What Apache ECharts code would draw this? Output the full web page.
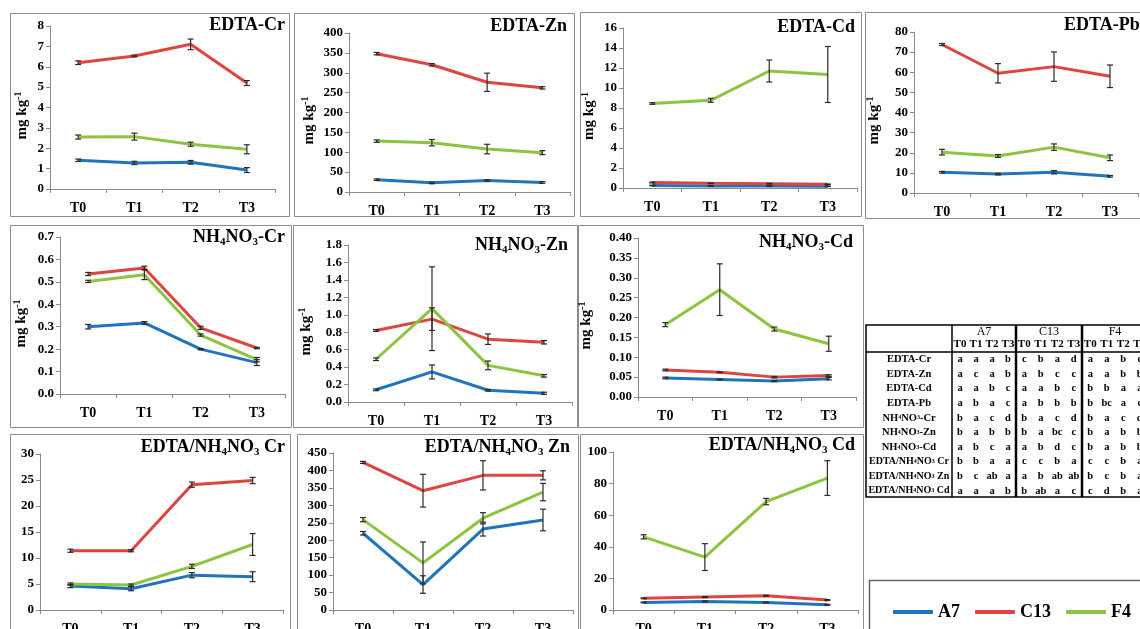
<!DOCTYPE html>
<html><head><meta charset="utf-8">
<script src="https://cdn.jsdelivr.net/npm/echarts@6/dist/echarts.min.js"></script>
<style>html,body{margin:0;padding:0;background:#fff}#c{width:1140px;height:629px}</style>
</head><body><div id="c"></div>
<script>
const categories = ['T0','T1','T2','T3'];
const seriesNames = ['A7','C13','F4'];
const colors = ['#1f74bd','#e0443e','#8cc43f'];

// ---- values (mean and +/- error) ----
const edtaCr = {A7:[1.41,1.28,1.31,0.93], C13:[6.2,6.53,7.1,5.2], F4:[2.55,2.57,2.2,1.95]};
const edtaCrErr = {A7:[0.06,0.08,0.09,0.12], C13:[0.09,0.04,0.26,0.12], F4:[0.1,0.17,0.1,0.22]};

const edtaZn = {A7:[31,23,29,24], C13:[348,320,276,262], F4:[128,124,108,99]};
const edtaZnErr = {A7:[2,2,2,2], C13:[3,3,23,3], F4:[3,8,12,5]};

const edtaCd = {A7:[0.25,0.2,0.2,0.17], C13:[0.55,0.47,0.43,0.37], F4:[8.45,8.77,11.7,11.35]};
const edtaCdErr = {A7:[0.03,0.03,0.03,0.03], C13:[0.04,0.03,0.03,0.03], F4:[0.08,0.2,1.1,2.8]};

const edtaPb = {A7:[10.3,9.4,10.3,8.3], C13:[73.8,59.5,62.8,58], F4:[20.3,18.4,22.8,17.5]};
const edtaPbErr = {A7:[0.4,0.4,0.8,0.4], C13:[0.5,4.8,7.3,5.6], F4:[1.4,0.7,1.6,1.4]};

const nhCr = {A7:[0.3,0.317,0.2,0.14], C13:[0.535,0.562,0.295,0.205], F4:[0.502,0.532,0.263,0.153]};
const nhCrErr = {A7:[0.01,0.006,0.003,0.013], C13:[0.007,0.008,0.007,0.003], F4:[0.005,0.022,0.005,0.01]};

const nhZn = {A7:[0.14,0.345,0.135,0.1], C13:[0.82,0.95,0.72,0.685], F4:[0.49,1.07,0.42,0.3]};
const nhZnErr = {A7:[0.01,0.08,0.01,0.012], C13:[0.01,0.13,0.06,0.02], F4:[0.015,0.48,0.05,0.015]};

const nhCd = {A7:[0.048,0.044,0.04,0.046], C13:[0.068,0.062,0.05,0.054], F4:[0.182,0.27,0.171,0.134]};
const nhCdErr = {A7:[0.002,0.001,0.001,0.003], C13:[0.002,0.001,0.002,0.002], F4:[0.005,0.065,0.005,0.019]};

const ratioCr = {A7:[4.6,4.1,6.7,6.4], C13:[11.4,11.4,24.1,24.9], F4:[5.0,4.8,8.4,12.6]};
const ratioCrErr = {A7:[0.3,0.4,0.5,0.95], C13:[0.3,0.2,0.5,0.6], F4:[0.2,0.2,0.4,2.1]};

const ratioZn = {A7:[220,73,232,258], C13:[423,342,386,386], F4:[259,135,263,338]};
const ratioZnErr = {A7:[5,25,20,31], C13:[3,47,42,13], F4:[6,60,16,25]};

const ratioCd = {A7:[4.8,5.4,4.8,3.3], C13:[7.4,8.2,9,6.3], F4:[46.3,33.5,68.6,83.5]};
const ratioCdErr = {A7:[0.3,0.3,0.3,0.3], C13:[0.3,0.3,0.3,0.3], F4:[1.3,8.5,2,11]};

// ---- table of significance letters ----
const tableGroups = ['A7','C13','F4'];
const tableRowLabels = ['EDTA-Cr','EDTA-Zn','EDTA-Cd','EDTA-Pb','NH{s|4}NO{s|3}-Cr','NH{s|4}NO{s|3}-Zn','NH{s|4}NO{s|3}-Cd','EDTA/NH{s|4}NO{s|3} Cr','EDTA/NH{s|4}NO{s|3} Zn','EDTA/NH{s|4}NO{s|3} Cd'];
const tableLetters = [
  ['a','a','a','b','c','b','a','d','a','a','b','c'],
  ['a','c','a','b','a','b','c','c','a','a','b','b'],
  ['a','a','b','c','a','a','b','c','b','b','a','a'],
  ['a','b','a','c','a','b','b','b','b','bc','a','c'],
  ['b','a','c','d','b','a','c','d','b','a','c','d'],
  ['b','a','b','b','b','a','bc','c','b','a','b','b'],
  ['a','b','c','a','a','b','d','c','b','a','b','b'],
  ['b','b','a','a','c','c','b','a','c','c','b','a'],
  ['b','c','ab','a','a','b','ab','ab','b','c','b','a'],
  ['a','a','a','b','b','ab','a','c','c','d','b','a']
];

const SERIF = '"Liberation Serif","Times New Roman",serif';

const panels = [
 {vals:edtaCr, errs:edtaCrErr, title:'EDTA-Cr', yMax:8, yStep:1, dec:0, grid:[50,26,225,163], box:[10,13,279,203], tx:285, ty:25, left:false, gap:19},
 {vals:edtaZn, errs:edtaZnErr, title:'EDTA-Zn', yMax:400, yStep:50, dec:0, grid:[349,33,221,159], box:[294,13,280,203], tx:567, ty:26, left:false, gap:31},
 {vals:edtaCd, errs:edtaCdErr, title:'EDTA-Cd', yMax:16, yStep:2, dec:0, grid:[623,28,234,160], box:[580,12,281,204], tx:855, ty:27, left:false, gap:25},
 {vals:edtaPb, errs:edtaPbErr, title:'EDTA-Pb', yMax:80, yStep:10, dec:0, grid:[914,32,224,161], box:[865,12,300,206], tx:1064, ty:25, left:true, gap:31},
 {vals:nhCr, errs:nhCrErr, title:'NH{sub|4}NO{sub|3}-Cr', yMax:0.7, yStep:0.1, dec:1, grid:[60,237,225,157], box:[10,225,281,202], tx:285, ty:237, left:false, gap:30},
 {vals:nhZn, errs:nhZnErr, title:'NH{sub|4}NO{sub|3}-Zn', yMax:1.8, yStep:0.2, dec:1, grid:[348,245,224,157], box:[293,225,284,202], tx:568, ty:245, left:false, gap:33},
 {vals:nhCd, errs:nhCdErr, title:'NH{sub|4}NO{sub|3}-Cd', yMax:0.4, yStep:0.05, dec:2, grid:[638,238,218,159], box:[578,225,285,202], tx:853, ty:242, left:false, gap:43},
 {vals:ratioCr, errs:ratioCrErr, title:'EDTA/NH{sub|4}NO{sub|3} Cr', yMax:30, yStep:5, dec:0, grid:[40,454,243,156], box:[10,434,280,220], tx:285, ty:447, left:false, gap:null},
 {vals:ratioZn, errs:ratioZnErr, title:'EDTA/NH{sub|4}NO{sub|3} Zn', yMax:450, yStep:50, dec:0, grid:[333,453,240,157], box:[297,434,281,220], tx:570, ty:447, left:false, gap:null},
 {vals:ratioCd, errs:ratioCdErr, title:'EDTA/NH{sub|4}NO{sub|3} Cd', yMax:100, yStep:20, dec:0, grid:[613,452,245,158], box:[580,434,283,220], tx:855, ty:445, left:false, gap:null}
];

function renderErr(params, api) {
  const i = api.value(0);
  const lo = api.coord([i, api.value(1)]);
  const hi = api.coord([i, api.value(2)]);
  const w = 3;
  const st = {stroke:'#2a2a2a', lineWidth:1.2};
  return {type:'group', children:[
    {type:'line', shape:{x1:lo[0], y1:lo[1], x2:hi[0], y2:hi[1]}, style:st},
    {type:'line', shape:{x1:lo[0]-w, y1:lo[1], x2:lo[0]+w, y2:lo[1]}, style:st},
    {type:'line', shape:{x1:hi[0]-w, y1:hi[1], x2:hi[0]+w, y2:hi[1]}, style:st}
  ]};
}

const grids = [], xAxes = [], yAxes = [], series = [], titles = [], graphics = [];
const axisGray = '#8a8a8a';

panels.forEach((p, k) => {
  grids.push({left:p.grid[0], top:p.grid[1], width:p.grid[2], height:p.grid[3], outerBoundsMode:'none', containLabel:false});
  xAxes.push({type:'category', gridIndex:k, data:categories, boundaryGap:true,
    axisLine:{lineStyle:{color:axisGray, width:1}},
    axisTick:{show:true, alignWithLabel:false, length:4, lineStyle:{color:axisGray}},
    axisLabel:{fontFamily:SERIF, fontWeight:'bold', fontSize:14, color:'#000', margin:12, interval:0},
    splitLine:{show:false}});
  const ya = {type:'value', gridIndex:k, min:0, max:p.yMax, interval:p.yStep,
    axisLine:{show:true, lineStyle:{color:axisGray, width:1}},
    axisTick:{show:true, length:4, lineStyle:{color:axisGray}},
    axisLabel:{fontFamily:SERIF, fontWeight:'bold', fontSize:13, color:'#000', margin:6,
      formatter:(v) => Number(v).toFixed(p.dec), showMinLabel:true, showMaxLabel:true, hideOverlap:false},
    splitLine:{show:false}};
  if (p.gap !== null) {
    Object.assign(ya, {name:'mg kg{sup|-1}', nameLocation:'middle', nameGap:p.gap, nameRotate:90,
      nameTextStyle:{fontFamily:SERIF, fontWeight:'bold', fontSize:15, color:'#000', lineHeight:18, padding:[0,16,0,0],
        rich:{sup:{fontFamily:SERIF, fontWeight:'bold', fontSize:10, lineHeight:10, verticalAlign:'top', color:'#000'}}}});
  }
  yAxes.push(ya);

  seriesNames.forEach((name, s) => {
    series.push({type:'line', name:name, xAxisIndex:k, yAxisIndex:k, data:p.vals[name],
      symbol:'none', showSymbol:false, smooth:false, color:colors[s],
      lineStyle:{color:colors[s], width:3}, z:2, silent:true});
  });
  seriesNames.forEach((name, s) => {
    series.push({type:'custom', name:'err-'+name+'-'+k, xAxisIndex:k, yAxisIndex:k,
      renderItem:renderErr, encode:{x:0, y:[1,2]}, z:5, silent:true,
      data:p.vals[name].map((v, i) => [i, v - p.errs[name][i], v + p.errs[name][i]])});
  });

  const t = {text:p.title, top:p.ty - 11, padding:0,
    textStyle:{fontFamily:SERIF, fontWeight:'bold', fontSize:18, color:'#000', lineHeight:22,
      rich:{sub:{fontFamily:SERIF, fontWeight:'bold', fontSize:11, lineHeight:11, verticalAlign:'bottom', color:'#000'}}}};
  if (p.left) t.left = p.tx; else t.right = 1140 - p.tx;
  titles.push(t);

  graphics.push({type:'rect', z:-1, shape:{x:p.box[0]+0.5, y:p.box[1]+0.5, width:p.box[2], height:p.box[3]},
    style:{fill:'none', stroke:'#8c8c8c', lineWidth:1}, silent:true});
});

// ---- significance table ----
const T = {x:866, y:325, bottom:497, col1:952, groupX:[952,1016,1082,1148], h1:338, h2:352};
graphics.push({type:'rect', shape:{x:T.x, y:T.y, width:300, height:T.bottom - T.y}, style:{fill:'none', stroke:'#000', lineWidth:1.5}, silent:true});
graphics.push({type:'line', shape:{x1:T.col1, y1:T.y, x2:T.col1, y2:T.bottom}, style:{stroke:'#000', lineWidth:1.5}, silent:true});
[1,2].forEach(g => graphics.push({type:'line', shape:{x1:T.groupX[g], y1:T.y, x2:T.groupX[g], y2:T.bottom}, style:{stroke:'#000', lineWidth:2.5}, silent:true}));
graphics.push({type:'line', shape:{x1:T.x, y1:T.h2, x2:1140, y2:T.h2}, style:{stroke:'#000', lineWidth:1.5}, silent:true});

function subCenters(g) {
  const a = T.groupX[g], b = T.groupX[g+1], w = (b - a) / 4;
  return [0,1,2,3].map(j => a + w * (j + 0.5));
}
tableGroups.forEach((name, g) => {
  graphics.push({type:'text', x:(T.groupX[g] + T.groupX[g+1]) / 2, y:331.5, silent:true,
    style:{text:name, textAlign:'center', textVerticalAlign:'middle', verticalAlign:'middle', fontFamily:SERIF, fontSize:12, fill:'#000'}});
  subCenters(g).forEach((cx, j) => {
    graphics.push({type:'text', x:cx, y:344.5, silent:true,
      style:{text:categories[j], textAlign:'center', textVerticalAlign:'middle', verticalAlign:'middle', fontFamily:SERIF, fontWeight:'bold', fontSize:11, fill:'#000'}});
  });
});
const rowH = 14.6;
tableRowLabels.forEach((lab, r) => {
  const cy = T.h2 + 7.5 + r * rowH;
  graphics.push({type:'text', x:(T.x + T.col1) / 2, y:cy, silent:true,
    style:{text:lab, textAlign:'center', textVerticalAlign:'middle', verticalAlign:'middle', fontFamily:SERIF, fontWeight:'bold', fontSize:(r < 7 ? 10.5 : 10), fill:'#000',
      rich:{s:{fontFamily:SERIF, fontWeight:'bold', fontSize:6, fill:'#000'}}}});
  tableLetters[r].forEach((l, c) => {
    const g = Math.floor(c / 4), j = c % 4;
    graphics.push({type:'text', x:subCenters(g)[j], y:cy, silent:true,
      style:{text:l, textAlign:'center', textVerticalAlign:'middle', verticalAlign:'middle', fontFamily:SERIF, fontWeight:'bold', fontSize:10.5, fill:'#000'}});
  });
});

// ---- legend box ----
graphics.push({type:'rect', shape:{x:869.5, y:580.5, width:300, height:80}, style:{fill:'none', stroke:'#666', lineWidth:1.5}, silent:true});

const chart = echarts.init(document.getElementById('c'), null, {renderer:'canvas'});
chart.setOption({
  animation:false,
  backgroundColor:'#fff',
  title:titles,
  grid:grids,
  xAxis:xAxes,
  yAxis:yAxes,
  legend:{data:seriesNames, left:893, top:603, padding:0, itemGap:15, itemWidth:40, itemHeight:4, icon:'roundRect',
    selectedMode:false, textStyle:{fontFamily:SERIF, fontWeight:'bold', fontSize:18, color:'#000'}},
  graphic:graphics,
  series:series
});
</script></body></html>
